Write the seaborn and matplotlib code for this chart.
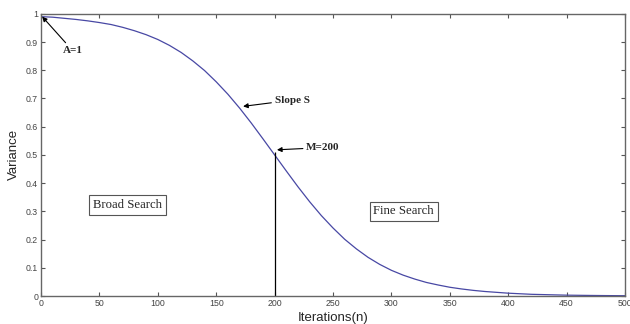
import numpy as np
import pandas as pd
import matplotlib
matplotlib.use("Agg")
import matplotlib.pyplot as plt
import seaborn as sns

# Variance schedule over the iterations (sampled every 10 iterations)
iterations = list(range(0, 501, 10))
variance = [
    0.990, 0.988, 0.984, 0.980, 0.975, 0.969, 0.962, 0.952, 0.940, 0.926,
    0.909, 0.888, 0.863, 0.833, 0.799, 0.759, 0.715, 0.666, 0.613, 0.557,
    0.500, 0.443, 0.387, 0.334, 0.285, 0.241, 0.201, 0.167, 0.137, 0.112,
    0.091, 0.074, 0.060, 0.048, 0.039, 0.031, 0.025, 0.020, 0.016, 0.013,
    0.010, 0.008, 0.006, 0.005, 0.004, 0.003, 0.0025, 0.002, 0.0016, 0.0013,
    0.001,
]
midpoint = 200
x_ticks = list(range(0, 501, 50))
y_ticks = [0, 0.1, 0.2, 0.3, 0.4, 0.5, 0.6, 0.7, 0.8, 0.9, 1]
y_tick_labels = ["0", "0.1", "0.2", "0.3", "0.4", "0.5", "0.6", "0.7", "0.8", "0.9", "1"]

df = pd.DataFrame({"Iterations(n)": iterations, "Variance": variance})

sns.set_style("ticks")
plt.rcParams["font.family"] = ["Liberation Sans", "DejaVu Sans"]

fig = plt.figure(figsize=(6.3, 3.24), dpi=100)
ax = fig.add_axes([0.0651, 0.0864, 0.927, 0.871])

sns.lineplot(data=df, x="Iterations(n)", y="Variance", ax=ax,
             color="#4848a4", linewidth=0.9)

# Vertical marker at the midpoint
mid_val = variance[iterations.index(midpoint)]
ax.vlines(midpoint, 0, mid_val + 0.012, color="black", linewidth=0.9)

ax.set_xlim(0, 500)
ax.set_ylim(0, 1)
ax.set_xticks(x_ticks)
ax.set_xticklabels([str(t) for t in x_ticks])
ax.set_yticks(y_ticks)
ax.set_yticklabels(y_tick_labels)
ax.tick_params(direction="in", length=3, width=0.8, colors="#555555",
               labelsize=6.3, top=True, right=True, pad=2)
ax.tick_params(labelcolor="#444444")
for s in ax.spines.values():
    s.set_visible(True)
    s.set_color("#666666")
    s.set_linewidth(1.0)

ax.set_xlabel("Iterations(n)", fontsize=9.5, labelpad=3)
ax.set_ylabel("Variance", fontsize=9.5, labelpad=4)

serif = ["Liberation Serif", "DejaVu Serif"]
arrow = dict(arrowstyle="-|>", color="black", lw=0.8,
             mutation_scale=7, shrinkA=0, shrinkB=0)

ax.annotate("A=1", xy=(1, variance[0]), xytext=(18.5, 0.87),
            fontsize=8, fontweight="bold", family=serif,
            ha="left", va="center", arrowprops=arrow)
ax.annotate("Slope S", xy=(173, 0.672), xytext=(200, 0.694),
            fontsize=8, fontweight="bold", family=serif,
            ha="left", va="center", arrowprops=arrow)
ax.annotate("M=200", xy=(202, 0.518), xytext=(227, 0.526),
            fontsize=8, fontweight="bold", family=serif,
            ha="left", va="center", arrowprops=arrow)

box = dict(boxstyle="square,pad=0.3", facecolor="white",
           edgecolor="#555555", linewidth=0.8)
ax.text(74, 0.323, "Broad Search", fontsize=9.2, family=serif,
        ha="center", va="center", bbox=box)
ax.text(310.5, 0.30, "Fine Search", fontsize=9.2, family=serif,
        ha="center", va="center", bbox=box)

fig.savefig("out.png", dpi=100)
